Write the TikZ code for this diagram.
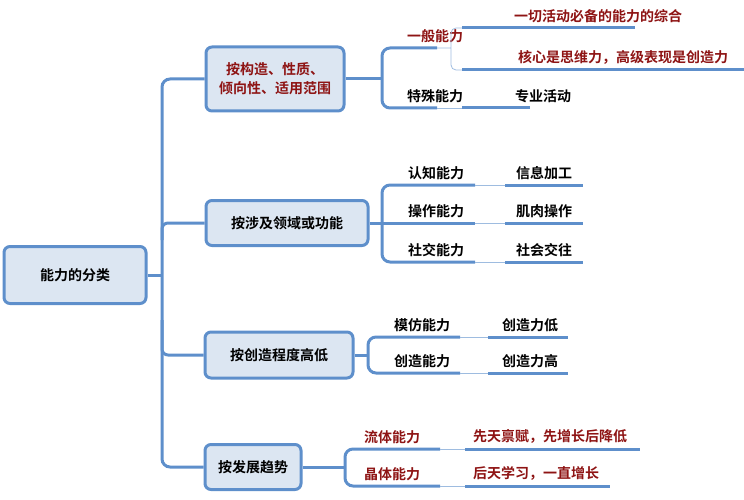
\documentclass[tikz,border=0pt]{standalone}
\usepackage{fontspec}
\setmainfont{Noto Sans CJK SC Bold}
\begin{document}
\begin{tikzpicture}[x=1pt,y=-1pt,
  bx/.style={draw=lb,line width=3pt,fill=lf,rounded corners=6pt,inner sep=0pt,align=center,font=\fontsize{14}{19}\selectfont},
  ln/.style={draw=lb,line width=3pt},
  thin/.style={draw=lb!60,line width=0.8pt},
  tx/.style={font=\fontsize{14}{16}\selectfont,anchor=south,inner sep=3pt},
  rd/.style={text=dr}]
\definecolor{lb}{HTML}{5E8FCB}
\definecolor{lf}{HTML}{DCE6F2}
\definecolor{dr}{HTML}{8E1414}
\useasboundingbox (0,0) rectangle (744,500);
% root and branches
\node[bx,minimum width=142,minimum height=57] (r) at (75,275) {能力的分类};
\node[bx,minimum width=138,minimum height=64,rd] (b1) at (275,79) {按构造、性质、\\倾向性、适用范围};
\node[bx,minimum width=162,minimum height=45] (b2) at (287,223) {按涉及领域或功能};
\node[bx,minimum width=148,minimum height=46] (b3) at (279,355) {按创造程度高低};
\node[bx,minimum width=96,minimum height=45] (b4) at (253,467) {按发展趋势};
\coordinate (t1) at (162,79); \coordinate (t4) at (162,467);
\draw[ln,rounded corners=8pt] (b1.west) -- (t1) -- (t4) -- (b4.west);
\draw[ln] (r.east) -- (162,275);
\draw[ln,rounded corners=6pt] (162,240) |- (b2.west);
\draw[ln,rounded corners=6pt] (162,320) |- (b3.west);
% group 1
\draw[ln,rounded corners=8pt] (437,48) -- (382,48) -- (382,108) -- (437,108);
\draw[ln] (b1.east) -- (382,79);
\node[tx,rd] (g1) at (435,46) {一般能力};
\node[tx] (g2) at (435,106) {特殊能力};
\draw[thin,rounded corners=5pt] (437,48) -- (451,48) (462,28) -- (451,28) -- (451,70) -- (462,70);
\draw[thin] (437,108) -- (462,108);
\draw[ln] (462,28) -- (635,28) (462,70) -- (744,70) (462,108) -- (530,108);
\node[tx,rd,anchor=south west] (l1) at (511,26) {一切活动必备的能力的综合};
\node[tx,rd,anchor=south west] (l2) at (515,68) {核心是思维力，高级表现是创造力};
\node[tx,anchor=south west] (l3) at (512,106) {专业活动};
% group 2
\draw[ln,rounded corners=8pt] (475,185) -- (382,185) -- (382,262) -- (475,262);
\draw[ln] (b2.east) -- (382,223) -- (475,223);
\foreach \y/\a/\b in {185/认知能力/信息加工,223/操作能力/肌肉操作,262/社交能力/社会交往}{
  \node[tx] at (436,\y-2) {\a};
  \draw[thin] (475,\y) -- (505,\y);
  \draw[ln] (505,\y) -- (583,\y);
  \node[tx] at (544,\y-2) {\b};}
% group 3
\draw[ln,rounded corners=8pt] (460,337) -- (368,337) -- (368,373) -- (460,373);
\draw[ln] (b3.east) -- (368,355);
\foreach \y/\a/\b in {337/模仿能力/创造力低,373/创造能力/创造力高}{
  \node[tx] at (422,\y-2) {\a};
  \draw[thin] (460,\y) -- (488,\y);
  \draw[ln] (488,\y) -- (568,\y);
  \node[tx] at (530,\y-2) {\b};}
% group 4
\draw[ln,rounded corners=8pt] (440,449) -- (345,449) -- (345,486) -- (440,486);
\draw[ln] (b4.east) -- (345,467);
\node[tx,rd] at (392,447) {流体能力};
\node[tx,rd] at (392,484) {晶体能力};
\draw[thin] (440,449) -- (465,449) (440,486) -- (465,486);
\draw[ln] (465,449) -- (640,449) (465,486) -- (610,486);
\node[tx,rd,anchor=south west] at (470,447) {先天禀赋，先增长后降低};
\node[tx,rd,anchor=south west] at (470,484) {后天学习，一直增长};
\end{tikzpicture}
\end{document}
